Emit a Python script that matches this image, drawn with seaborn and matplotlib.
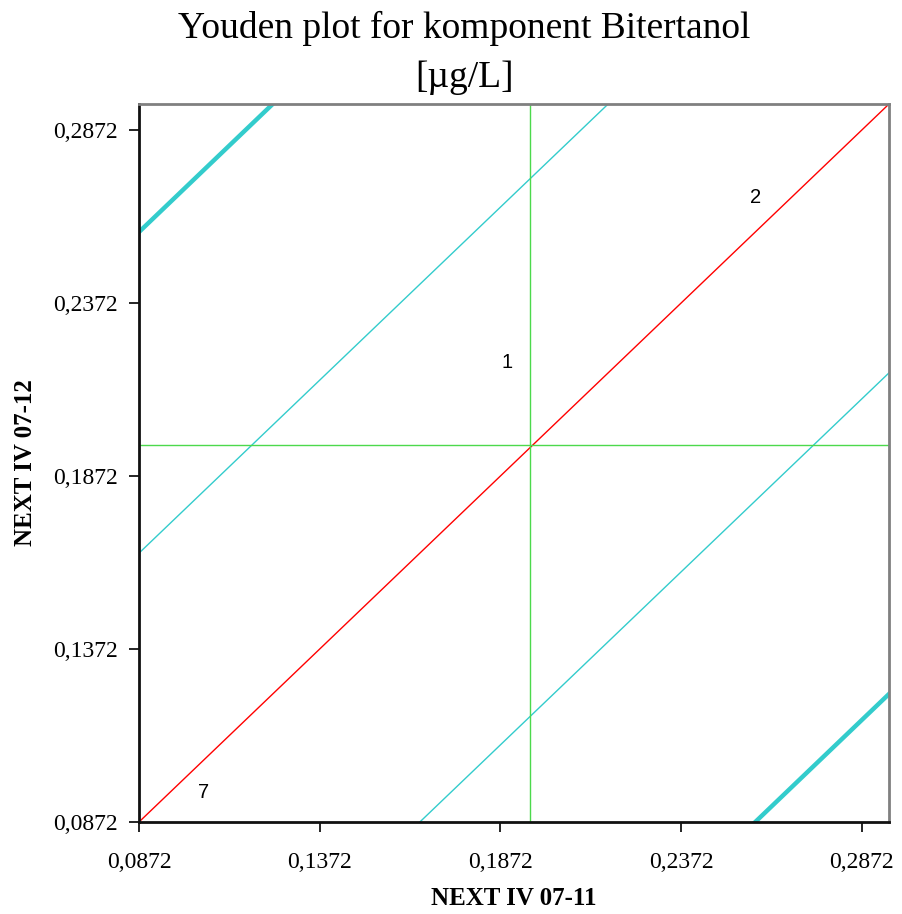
import numpy as np
import pandas as pd
import matplotlib
matplotlib.use("Agg")
import matplotlib.pyplot as plt
import seaborn as sns

# ---- data ----
axis_min = 0.0872
axis_max = 0.2947
tick_values = [0.0872, 0.1372, 0.1872, 0.2372, 0.2872]
tick_labels = ["0,0872", "0,1372", "0,1872", "0,2372", "0,2872"]
median_x = 0.1954
median_y = 0.1962
inner_offset = 0.0777     # thin cyan limits (y = x +/- offset)
outer_offset = 0.1705     # thick cyan limits
lab_ids = ["1", "2", "7"]
lab_x = [0.1890, 0.2578, 0.1052]
lab_y = [0.2201, 0.2678, 0.0958]

sns.set_theme(style="white")
plt.rcParams["font.family"] = ["Liberation Serif", "DejaVu Serif"]
plt.rcParams["text.color"] = "black"
plt.rcParams["axes.labelcolor"] = "black"
plt.rcParams["xtick.color"] = "black"
plt.rcParams["ytick.color"] = "black"

fig = plt.figure(figsize=(9.02, 9.14), dpi=100)
ax = fig.add_axes([139/902, 1-822/914, (889-139)/902, (822-104)/914])

xs = np.array([axis_min - 0.3, axis_max + 0.3])

def diag(offset, color, lw):
    df = pd.DataFrame({"x": xs, "y": xs + offset})
    sns.lineplot(data=df, x="x", y="y", ax=ax, color=color, linewidth=lw,
                 sort=False, estimator=None)

diag(0.0, "#FF0000", 1.0)
diag(inner_offset, "#33CCCC", 1.0)
diag(-inner_offset, "#33CCCC", 1.0)
diag(outer_offset, "#33CCCC", 3.2)
diag(-outer_offset, "#33CCCC", 3.2)

ax.axvline(median_x, color="#4CD94C", linewidth=1.0)
ax.axhline(median_y, color="#4CD94C", linewidth=1.0)

for t, x, y in zip(lab_ids, lab_x, lab_y):
    ax.text(x, y, t, fontsize=14.5, family=["Liberation Sans", "DejaVu Sans"],
            ha="center", va="center", color="black")

ax.set_xlim(axis_min, axis_max)
ax.set_ylim(axis_min, axis_max)
ax.set_xticks(tick_values)
ax.set_xticklabels(tick_labels)
ax.set_yticks(tick_values)
ax.set_yticklabels(tick_labels)
ax.tick_params(axis="both", direction="out", length=7, width=1.2, color="black",
               labelsize=17, bottom=True, left=True)
ax.tick_params(axis="x", pad=14.5)
ax.tick_params(axis="y", pad=8)
for s in ["left", "bottom"]:
    ax.spines[s].set_color("#111111")
    ax.spines[s].set_linewidth(2.0)
for s in ["top", "right"]:
    ax.spines[s].set_color("#808080")
    ax.spines[s].set_linewidth(2.0)

ax.set_xlabel("NEXT IV 07-11", fontsize=18, fontweight="bold", labelpad=10)
ax.set_ylabel("NEXT IV 07-12", fontsize=18, fontweight="bold", labelpad=12)

fig.text(464/902, 1-28/914, "Youden plot for komponent Bitertanol", fontsize=27,
         ha="center", va="center")
fig.text(464/902, 1-78/914, "[µg/L]", fontsize=27, ha="center", va="center")

fig.savefig("out.png", dpi=100, facecolor="white")
